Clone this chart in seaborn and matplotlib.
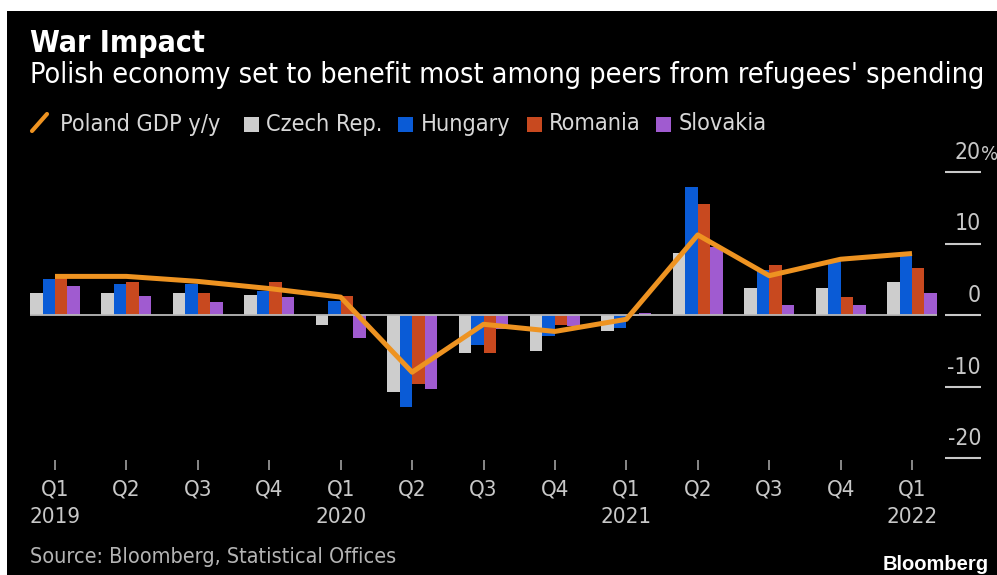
import numpy as np
import pandas as pd
import matplotlib
matplotlib.use("Agg")
import matplotlib.pyplot as plt
from matplotlib.patches import Rectangle
from matplotlib.lines import Line2D
import seaborn as sns

# ---------------- data ----------------
quarters = ["Q1", "Q2", "Q3", "Q4", "Q1", "Q2", "Q3", "Q4", "Q1", "Q2", "Q3", "Q4", "Q1"]
years = ["2019", "", "", "", "2020", "", "", "", "2021", "", "", "", "2022"]
countries = ["Czech Rep.", "Hungary", "Romania", "Slovakia"]
czech = [3.1, 3.1, 3.1, 2.8, -1.4, -10.7, -5.3, -5.1, -2.2, 8.7, 3.8, 3.8, 4.6]
hungary = [5.0, 4.4, 4.3, 3.4, 2.0, -12.9, -4.2, -2.9, -1.8, 17.9, 6.3, 7.5, 8.4]
romania = [5.4, 4.6, 3.1, 4.6, 2.7, -9.7, -5.3, -1.4, -0.2, 15.5, 7.0, 2.5, 6.6]
slovakia = [4.0, 2.7, 1.8, 2.5, -3.2, -10.4, -2.0, -1.6, 0.3, 9.5, 1.4, 1.4, 3.1]
poland = [5.4, 5.4, 4.7, 3.7, 2.5, -8.0, -1.3, -2.3, -0.6, 11.2, 5.5, 7.8, 8.6]
y_ticks = [-20, -10, 0, 10, 20]
y_tick_labels = ["-20", "-10", "0", "10", "20"]

title = "War Impact"
subtitle = "Polish economy set to benefit most among peers from refugees' spending"
source = "Source: Bloomberg, Statistical Offices"

colors = {"Czech Rep.": "#cdcdcd", "Hungary": "#0a5bd6", "Romania": "#c8491f", "Slovakia": "#a05bd0"}
line_color = "#ee9321"

# ---------------- figure ----------------
W, H = 997, 575
sns.set_theme(style="dark")
FONT = ["DejaVu Sans"]
plt.rcParams["font.family"] = FONT
plt.rcParams["font.stretch"] = "condensed"

fig = plt.figure(figsize=(W / 100, H / 100), dpi=100)
fig.patch.set_facecolor("white")

def fx(px):
    return px / W

def fy(py):
    return 1 - py / H

# black panel
fig.patches.append(Rectangle((fx(7), 0), 1 - fx(7), fy(11), transform=fig.transFigure,
                             facecolor="black", edgecolor="none", zorder=-10))

ax_left, ax_right, ax_top, ax_bottom = 20, 990, 140, 460
ax = fig.add_axes([fx(ax_left), fy(ax_bottom), (ax_right - ax_left) / W, (ax_bottom - ax_top) / H])
ax.set_facecolor("none")
ax.set_zorder(1)

# long-form frame
idx = [f"{q} {i}" for i, q in enumerate(quarters)]
rows = []
for name, vals in zip(countries, [czech, hungary, romania, slovakia]):
    for k, v in zip(idx, vals):
        rows.append({"quarter": k, "country": name, "value": v})
df = pd.DataFrame(rows)

sns.barplot(data=df, x="quarter", y="value", hue="country", order=idx, hue_order=countries,
            palette=colors, width=0.7, saturation=1, legend=False, ax=ax, zorder=2,
            edgecolor="none", linewidth=0)

# zero line
ax.hlines(0, -0.35, 12.35, color="#b8b8b8", lw=1.3, zorder=2.5)

sns.lineplot(x=np.arange(len(poland)), y=poland, color=line_color, lw=3.6, ax=ax, zorder=3,
             solid_joinstyle="round", solid_capstyle="butt")

px_per_unit_x = (912 - 55) / 12
x0 = -(55 - ax_left) / px_per_unit_x
x1 = 12 + (ax_right - 912) / px_per_unit_x
ax.set_xlim(x0, x1)
px_per_unit_y = 7.15
ax.set_ylim(-(ax_bottom - 315) / px_per_unit_y, (315 - ax_top) / px_per_unit_y)

for s in ax.spines.values():
    s.set_visible(False)
ax.grid(False)

# x ticks
ax.set_xticks(np.arange(len(quarters)))
ax.set_xticklabels([q + ("\n" + y if y else "") for q, y in zip(quarters, years)],
                   linespacing=1.45, fontsize=16, color="#c8c8c8")
ax.tick_params(axis="x", direction="out", length=7, width=1.2, color="#a0a0a0", pad=7, bottom=True)
ax.set_xlabel("")
ax.set_ylabel("")
ax.set_yticks([])

# right-side y tick marks and labels
tx0 = 12 + (945 - 912) / px_per_unit_x
tx1 = 12 + (981 - 912) / px_per_unit_x
ax.hlines(y_ticks, tx0, tx1, color="#c8c8c8", lw=1.5, zorder=3)
for v, lab in zip(y_ticks, y_tick_labels):
    ax.annotate(lab, (tx1, v), xytext=(0, 8), textcoords="offset pixels", ha="right", va="bottom",
                fontsize=16.5, color="#c8c8c8", annotation_clip=False)
ax.annotate("%", (tx1, 20), xytext=(0, 8), textcoords="offset pixels", ha="left", va="bottom",
            fontsize=14.5, color="#c8c8c8", annotation_clip=False)

# titles
fig.text(fx(30), fy(43), title, fontsize=21.7, fontweight="bold", color="white", va="center", ha="left")
fig.text(fx(30), fy(75), subtitle, fontsize=20.6, color="white", va="center", ha="left")

# legend (manual)
ly = 124
fig.lines.append(Line2D([fx(32), fx(47)], [fy(131), fy(114)], transform=fig.transFigure,
                        color=line_color, lw=3))
fig.text(fx(60), fy(ly), "Poland GDP y/y", fontsize=16.8, color="#d8d8d8", va="center", ha="left")
for (x_sq, x_txt, name) in [(244, 266, "Czech Rep."), (398, 421, "Hungary"),
                             (527, 549, "Romania"), (656, 679, "Slovakia")]:
    fig.patches.append(Rectangle((fx(x_sq), fy(132)), 15 / W, 15 / H, transform=fig.transFigure,
                                 facecolor=colors[name], edgecolor="none"))
    fig.text(fx(x_txt), fy(ly), name, fontsize=16.8, color="#d8d8d8", va="center", ha="left")

# source and logo
fig.text(fx(30), fy(557), source, fontsize=15.5, color="#b4b4b4", va="center", ha="left")
fig.text(fx(989), fy(565), "Bloomberg", fontsize=14.5, fontweight="bold", color="white",
         va="center", ha="right", family=["Liberation Sans", "DejaVu Sans"])

fig.savefig("out.png", dpi=100, facecolor=fig.get_facecolor())
